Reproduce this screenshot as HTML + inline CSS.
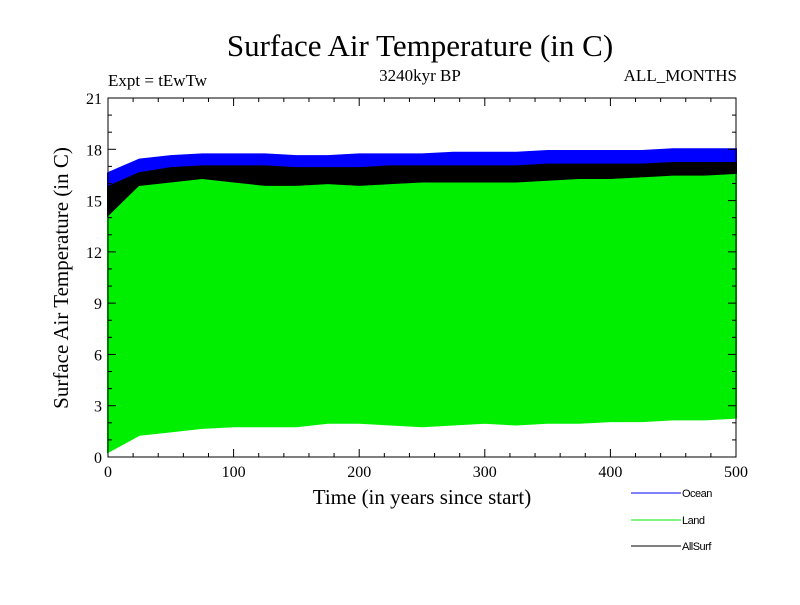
<!DOCTYPE html>
<html><head><meta charset="utf-8"><style>
body{margin:0;background:#fff;width:800px;height:600px;overflow:hidden}
svg text{font-family:"Liberation Serif",serif}
</style></head><body>
<svg id="c" width="800" height="600">
<text x="420" y="56" font-size="31" text-anchor="middle">Surface Air Temperature (in C)</text>
<text x="108" y="86" font-size="17">Expt = tEwTw</text>
<text x="420" y="81" font-size="17" text-anchor="middle">3240kyr BP</text>
<text x="737" y="81" font-size="17" text-anchor="end">ALL_MONTHS</text>
<text x="422" y="504" font-size="21" text-anchor="middle">Time (in years since start)</text>
<text transform="translate(68,278) rotate(-90)" font-size="21" text-anchor="middle">Surface Air Temperature (in C)</text>
<g id="series"></g>
<g id="axes"></g>
<g font-size="11">
<g><line x1="631" y1="493" x2="681" y2="493" stroke="#0000ff"/><text x="682" y="497" style="font-family:'Liberation Sans',sans-serif;letter-spacing:-0.5px">Ocean</text></g>
<g><line x1="631" y1="520" x2="681" y2="520" stroke="#00ee00"/><text x="682" y="524" style="font-family:'Liberation Sans',sans-serif;letter-spacing:-0.5px">Land</text></g>
<g><line x1="631" y1="546" x2="681" y2="546" stroke="#000"/><text x="682" y="550" style="font-family:'Liberation Sans',sans-serif;letter-spacing:-0.5px">AllSurf</text></g>
</g>
</svg>
<script>
const years=[0,25,50,75,100,125,150,175,200,225,250,275,300,325,350,375,400,425,450,475,500];
const oceanMax=[16.6,17.4,17.6,17.7,17.7,17.7,17.6,17.6,17.7,17.7,17.7,17.8,17.8,17.8,17.9,17.9,17.9,17.9,18,18,18];
const oceanMin=[15.6,16.7,16.9,17,17,17,16.9,16.9,16.9,17,17,17,17.1,17.1,17.1,17.2,17.2,17.2,17.2,17.2,17.3];
const allMax=[15.8,16.6,16.9,17,17,17,16.9,16.9,16.9,17,17,17,17,17,17.1,17.1,17.1,17.1,17.2,17.2,17.2];
const allMin=[13.5,15.5,15.8,15.8,15.6,15.5,15.4,15.4,15.5,15.6,15.6,15.6,15.6,15.6,15.7,15.7,15.7,15.8,15.8,15.8,15.8];
const landMax=[14,15.8,16,16.2,16,15.8,15.8,15.9,15.8,15.9,16,16,16,16,16.1,16.2,16.2,16.3,16.4,16.4,16.5];
const landMin=[0.3,1.3,1.5,1.7,1.8,1.8,1.8,2,2,1.9,1.8,1.9,2,1.9,2,2,2.1,2.1,2.2,2.2,2.3];
const xTicks=[0,100,200,300,400,500];
const yTicks=[0,3,6,9,12,15,18,21];
const X0=108,X1=736,Y0=457,Y1=98;
const xs=t=>X0+t/500*(X1-X0), ys=v=>Y0-v/21*(Y0-Y1);
const NS='http://www.w3.org/2000/svg';
function mk(tag,attrs,parent){const e=document.createElementNS(NS,tag);for(const k in attrs)e.setAttribute(k,attrs[k]);parent.appendChild(e);return e;}
const S=document.getElementById('series'),A=document.getElementById('axes');
function band(hi,lo,col,name){
  let p=years.map((t,i)=>xs(t)+','+ys(hi[i]));
  for(let i=years.length-1;i>=0;i--)p.push(xs(years[i])+','+ys(lo[i]));
  const e=mk('polygon',{points:p.join(' '),fill:col,stroke:col,'stroke-width':2},S);
  
  
}
band(oceanMax,oceanMin,'#0000ff','ocean-series');
band(allMax,allMin,'#000000','allsurf-series');
band(landMax,landMin,'#00ee00','land-series');
const fr=mk('rect',{x:X0,y:Y1,width:X1-X0,height:Y0-Y1,fill:'none',stroke:'#000'},A);


for(let v=0;v<=21;v++){const L=v%3?4:8;mk('line',{x1:X0,y1:ys(v),x2:X0+L,y2:ys(v),stroke:'#000'},A);mk('line',{x1:X1,y1:ys(v),x2:X1-L,y2:ys(v),stroke:'#000'},A);}
for(let t=0;t<=500;t+=20){const L=t%100?4:8;mk('line',{x1:xs(t),y1:Y0,x2:xs(t),y2:Y0-L,stroke:'#000'},A);mk('line',{x1:xs(t),y1:Y1,x2:xs(t),y2:Y1+L,stroke:'#000'},A);}
yTicks.forEach(v=>{const t=mk('text',{x:X0-6,y:ys(v)+6,'font-size':16,'text-anchor':'end'},A);t.textContent=v;

});
xTicks.forEach(v=>{const t=mk('text',{x:xs(v),y:Y0+20,'font-size':16,'text-anchor':'middle'},A);t.textContent=v;

});
</script>
</body></html>
